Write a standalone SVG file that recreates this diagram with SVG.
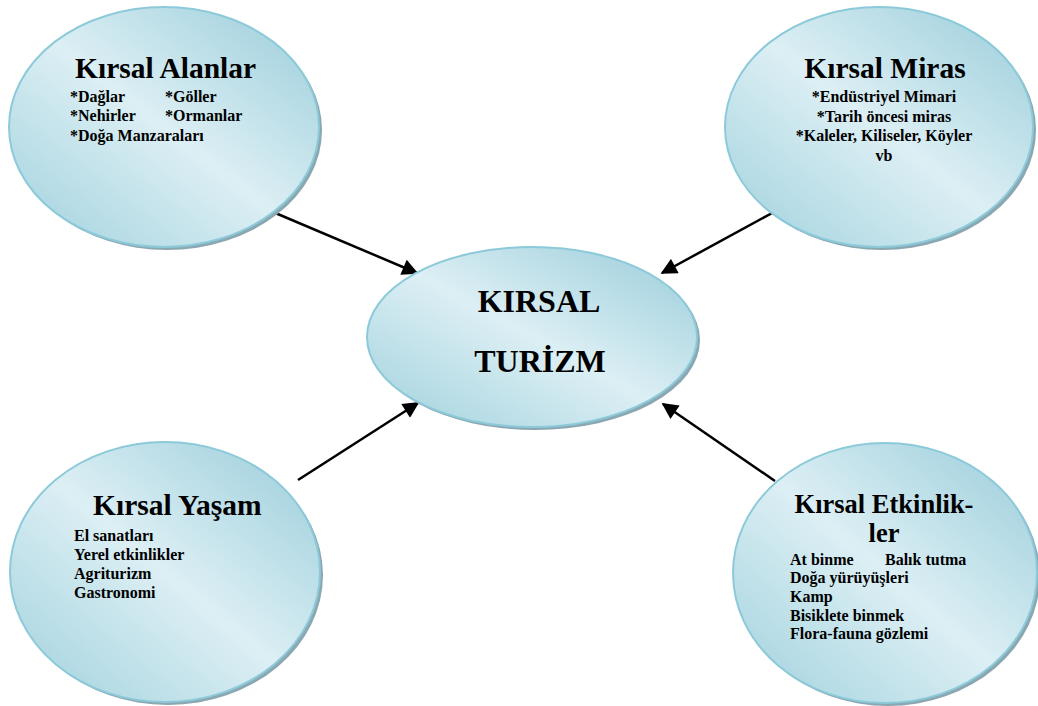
<svg xmlns="http://www.w3.org/2000/svg" width="1038" height="706" viewBox="0 0 1038 706">
<defs>
<linearGradient id="g" x1="1" y1="0" x2="0" y2="1">
<stop offset="0" stop-color="#98ccda"/>
<stop offset="0.5" stop-color="#dceff4"/>
<stop offset="1" stop-color="#a0d1dd"/>
</linearGradient>
<marker id="ah" viewBox="0 0 10 10" refX="9" refY="5" markerWidth="7.5" markerHeight="6.5" markerUnits="strokeWidth" orient="auto">
<path d="M0,0 L10,5 L0,10 z" fill="#000"/>
</marker>
</defs>
<style>
.sh{fill:#8aa7b2;}
.el{fill:url(#g);stroke:#8ccad9;stroke-width:2;}
.t{font-family:"Liberation Serif","Times New Roman",serif;font-weight:bold;fill:#000;}
.h{font-size:29.5px;}
.h2{font-size:26.5px;}
.i{font-size:16px;}
.c{font-size:32px;}
.con{stroke:#000;stroke-width:2.5;fill:none;marker-end:url(#ah);}
</style>
<rect width="1038" height="706" fill="#fff"/>
<g id="connectors">
<line class="con" x1="273" y1="212" x2="417" y2="273"/>
<line class="con" x1="774" y1="212" x2="662" y2="273"/>
<line class="con" x1="298" y1="480" x2="418" y2="403"/>
<line class="con" x1="775" y1="481" x2="663" y2="404"/>
</g>
<g id="kirsal-turizm">
<ellipse class="sh" cx="535" cy="340" rx="165" ry="90"/>
<ellipse class="el" cx="532" cy="337" rx="165" ry="90"/>
<text class="t c" x="539" y="312" text-anchor="middle">KIRSAL</text>
<text class="t c" x="540" y="372" text-anchor="middle">TURİZM</text>
</g>
<g id="kirsal-alanlar">
<ellipse class="sh" cx="167" cy="130" rx="155" ry="120"/>
<ellipse class="el" cx="164" cy="127" rx="155" ry="120"/>
<text class="t h" x="75" y="78">Kırsal Alanlar</text>
<text class="t i" x="70" y="102">*Dağlar</text>
<text class="t i" x="165" y="102">*Göller</text>
<text class="t i" x="70" y="121">*Nehirler</text>
<text class="t i" x="165" y="121">*Ormanlar</text>
<text class="t i" x="70" y="141">*Doğa Manzaraları</text>
</g>
<g id="kirsal-miras">
<ellipse class="sh" cx="882" cy="130" rx="154" ry="120"/>
<ellipse class="el" cx="879" cy="127" rx="154" ry="120"/>
<text class="t h" x="885" y="78" text-anchor="middle">Kırsal Miras</text>
<text class="t i" x="884" y="102" text-anchor="middle">*Endüstriyel Mimari</text>
<text class="t i" x="884" y="122" text-anchor="middle">*Tarih öncesi miras</text>
<text class="t i" x="884" y="141" text-anchor="middle">*Kaleler, Kiliseler, Köyler</text>
<text class="t i" x="884" y="161" text-anchor="middle">vb</text>
</g>
<g id="kirsal-yasam">
<ellipse class="sh" cx="168" cy="575" rx="155" ry="130"/>
<ellipse class="el" cx="165" cy="572" rx="155" ry="130"/>
<text class="t h" x="93" y="515">Kırsal Yaşam</text>
<text class="t i" x="74" y="541">El sanatları</text>
<text class="t i" x="74" y="560">Yerel etkinlikler</text>
<text class="t i" x="74" y="579">Agriturizm</text>
<text class="t i" x="74" y="598">Gastronomi</text>
</g>
<g id="kirsal-etkinlikler">
<ellipse class="sh" cx="888" cy="576" rx="152" ry="130"/>
<ellipse class="el" cx="885" cy="573" rx="152" ry="130"/>
<text class="t h2" x="884" y="513" text-anchor="middle">Kırsal Etkinlik-</text>
<text class="t h2" x="884" y="542" text-anchor="middle">ler</text>
<text class="t i" x="790" y="565">At binme</text>
<text class="t i" x="885" y="565">Balık tutma</text>
<text class="t i" x="790" y="583">Doğa yürüyüşleri</text>
<text class="t i" x="790" y="602">Kamp</text>
<text class="t i" x="790" y="621">Bisiklete binmek</text>
<text class="t i" x="790" y="639">Flora-fauna gözlemi</text>
</g>
</svg>
